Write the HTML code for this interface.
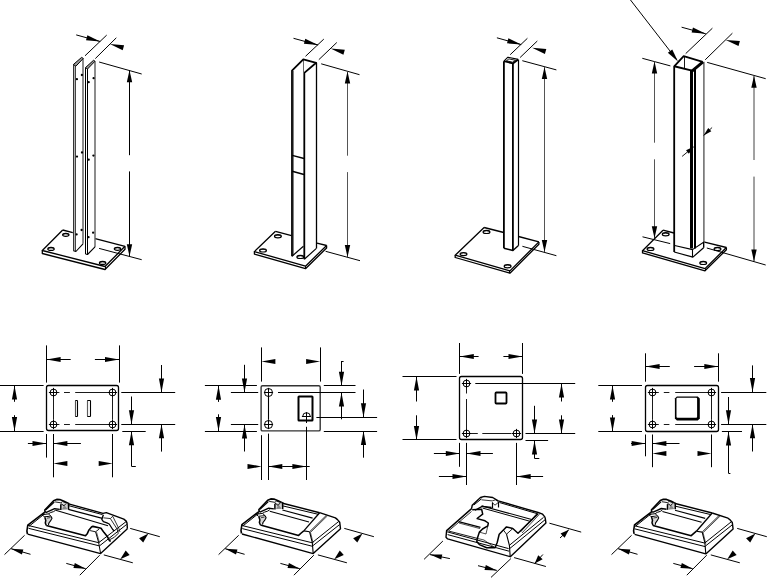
<!DOCTYPE html>
<html><head><meta charset="utf-8"><style>
html,body{margin:0;padding:0;background:#fff;}
body{width:767px;height:578px;overflow:hidden;font-family:"Liberation Sans",sans-serif;}
svg{display:block;}
</style></head><body>
<svg width="767" height="578" viewBox="0 0 767 578" stroke="#000" stroke-linecap="butt" stroke-linejoin="round" fill="none">
<line x1="76.2" y1="34.9" x2="100.2" y2="41.5" stroke-width="1"/>
<polygon points="100.2,41.5 87.39,35.28 86.01,40.29" fill="#000" stroke="none"/>
<line x1="85" y1="55.8" x2="106.7" y2="35.1" stroke-width="1"/>
<line x1="95.3" y1="58.6" x2="116.3" y2="37.8" stroke-width="1"/>
<polygon points="109.9,44 122.7,50.24 124.09,45.23" fill="#000" stroke="none"/>
<line x1="99.1" y1="62" x2="141.7" y2="74" stroke-width="1"/>
<line x1="129.5" y1="70.3" x2="129.5" y2="155.2" stroke-width="1"/>
<line x1="129.5" y1="171.4" x2="129.5" y2="256.2" stroke-width="1"/>
<polygon points="129.5,70.3 126.8,82.3 132.2,82.3" fill="#000" stroke="none"/>
<polygon points="129.5,256.2 132.2,244.2 126.8,244.2" fill="#000" stroke="none"/>
<line x1="99.1" y1="248.4" x2="141.7" y2="259.7" stroke-width="1"/>
<polyline points="62.7,230 42.3,250.5 105,266.5 125,246.3" stroke-width="1.3" fill="none"/>
<polyline points="42.3,250.5 42.3,253.5 105,269.5 125,249.3 125,246.3" stroke-width="1.3" fill="none"/>
<line x1="105.5" y1="266.5" x2="105.5" y2="269.5" stroke-width="1.04"/>
<line x1="62.7" y1="230" x2="72.8" y2="232.6" stroke-width="1.3"/>
<line x1="95.2" y1="238.6" x2="125" y2="246.3" stroke-width="1.3"/>
<ellipse cx="65.8" cy="234.8" rx="3.2" ry="1.5" stroke-width="1.2" fill="none"/>
<path d="M62.9,235 A2.9,1.2 0 0 1 68.7,235" stroke-width="0.8" fill="none"/>
<ellipse cx="51" cy="248.9" rx="3.2" ry="1.5" stroke-width="1.2" fill="none"/>
<path d="M48.1,249.1 A2.9,1.2 0 0 1 53.9,249.1" stroke-width="0.8" fill="none"/>
<ellipse cx="117.5" cy="248.8" rx="3.2" ry="1.5" stroke-width="1.2" fill="none"/>
<path d="M114.6,249 A2.9,1.2 0 0 1 120.4,249" stroke-width="0.8" fill="none"/>
<ellipse cx="102.6" cy="262.9" rx="3.2" ry="1.5" stroke-width="1.2" fill="none"/>
<path d="M99.7,263.1 A2.9,1.2 0 0 1 105.5,263.1" stroke-width="0.8" fill="none"/>
<polygon points="73.4,64.5 75.9,66.2 75.9,251.3 73.4,250.6" stroke-width="0" fill="#b4b4b4" stroke="none"/>
<line x1="73.5" y1="64.5" x2="73.5" y2="250.8" stroke-width="1" stroke="#333"/>
<line x1="75.5" y1="66" x2="75.5" y2="251.2" stroke-width="1" stroke="#444"/>
<line x1="83" y1="58.4" x2="83" y2="243.8" stroke-width="1.35" stroke="#555"/>
<polygon points="73.4,64.5 81.6,57.4 83.3,58.4 75.9,66.2" stroke-width="1" fill="#999"/>
<polyline points="73.4,250.8 75.9,251.5 83,243.8" stroke-width="1.1" fill="none"/>
<line x1="85.5" y1="67.6" x2="85.5" y2="254" stroke-width="1"/>
<line x1="87.5" y1="69" x2="87.5" y2="254.3" stroke-width="1"/>
<line x1="95" y1="61.2" x2="95" y2="246.9" stroke-width="1.35" stroke="#555"/>
<polygon points="85.5,67.6 93.5,60.3 95,61.2 87.5,69" stroke-width="1" fill="#999"/>
<polyline points="85.5,254 87.5,254.5 95,246.9" stroke-width="1.1" fill="none"/>
<circle cx="76.9" cy="79.2" r="1.15" fill="#000" stroke="none"/>
<circle cx="81.9" cy="75" r="1.15" fill="#000" stroke="none"/>
<circle cx="88.7" cy="82.2" r="1.15" fill="#000" stroke="none"/>
<circle cx="93.6" cy="78.2" r="1.15" fill="#000" stroke="none"/>
<circle cx="77" cy="156.6" r="1.15" fill="#000" stroke="none"/>
<circle cx="82" cy="152.5" r="1.15" fill="#000" stroke="none"/>
<circle cx="88.7" cy="159.7" r="1.15" fill="#000" stroke="none"/>
<circle cx="93.4" cy="155.6" r="1.15" fill="#000" stroke="none"/>
<circle cx="76.6" cy="234.4" r="1.15" fill="#000" stroke="none"/>
<circle cx="81.6" cy="230" r="1.15" fill="#000" stroke="none"/>
<circle cx="88.5" cy="237.2" r="1.15" fill="#000" stroke="none"/>
<circle cx="93.1" cy="232.7" r="1.15" fill="#000" stroke="none"/>
<line x1="293.5" y1="38.3" x2="318.1" y2="45" stroke-width="1"/>
<polygon points="318.1,45 305.28,38.81 303.91,43.83" fill="#000" stroke="none"/>
<line x1="305.5" y1="56.3" x2="323.8" y2="39.1" stroke-width="1"/>
<line x1="318.8" y1="59.7" x2="336.8" y2="42.5" stroke-width="1"/>
<polygon points="330.6,48.5 343.43,54.67 344.79,49.65" fill="#000" stroke="none"/>
<line x1="321.2" y1="63.8" x2="359.5" y2="74.7" stroke-width="1"/>
<line x1="347.5" y1="71.6" x2="347.5" y2="155.7" stroke-width="1" stroke="#555"/>
<line x1="347.5" y1="172.1" x2="347.5" y2="257.1" stroke-width="1" stroke="#555"/>
<polygon points="347.5,71.6 344.8,83.6 350.2,83.6" fill="#000" stroke="none"/>
<polygon points="347.5,257.1 350.2,245.1 344.8,245.1" fill="#000" stroke="none"/>
<line x1="325.6" y1="251.3" x2="360" y2="260.7" stroke-width="1"/>
<polyline points="275.5,231.3 254.4,251.6 305.5,266.2 326.6,245.5" stroke-width="1.3" fill="none"/>
<polyline points="254.4,251.6 254.4,254.1 305.5,268.7 326.6,248 326.6,245.5" stroke-width="1.3" fill="none"/>
<line x1="305.5" y1="266.2" x2="305.5" y2="268.7" stroke-width="1.04"/>
<line x1="275.5" y1="231.3" x2="291.5" y2="235.6" stroke-width="1.3"/>
<line x1="317" y1="243.2" x2="326.6" y2="245.5" stroke-width="1.3"/>
<ellipse cx="277.9" cy="236.3" rx="3.4" ry="1.6" stroke-width="1.2" fill="none"/>
<path d="M274.8,236.5 A3.1,1.28 0 0 1 281,236.5" stroke-width="0.8" fill="none"/>
<ellipse cx="263" cy="250.4" rx="3.4" ry="1.6" stroke-width="1.2" fill="none"/>
<path d="M259.9,250.6 A3.1,1.28 0 0 1 266.1,250.6" stroke-width="0.8" fill="none"/>
<ellipse cx="300.3" cy="256.9" rx="3.4" ry="1.6" stroke-width="1.2" fill="none"/>
<path d="M297.2,257.1 A3.1,1.28 0 0 1 303.4,257.1" stroke-width="0.8" fill="none"/>
<polyline points="292,256.2 292,70.6 303.3,59.4 316.2,62.8 304.3,72.9 304.3,259.3" stroke-width="1.8" fill="none"/>
<line x1="316.5" y1="62.8" x2="316.5" y2="248.4" stroke-width="1.3"/>
<line x1="292" y1="256.2" x2="303.4" y2="246.3" stroke-width="1.2"/>
<line x1="304.3" y1="259.3" x2="316.4" y2="248.4" stroke-width="1.2"/>
<line x1="303.5" y1="60" x2="303.5" y2="72.5" stroke-width="0.6"/>
<line x1="293.5" y1="71" x2="293.5" y2="255.5" stroke-width="0.5"/>
<line x1="292.2" y1="155.4" x2="304" y2="158.5" stroke-width="1.4"/>
<line x1="292.2" y1="171.3" x2="304" y2="174.5" stroke-width="1.4"/>
<line x1="496.9" y1="37.8" x2="521.2" y2="44.6" stroke-width="1"/>
<polygon points="521.2,44.6 508.42,38.32 507.02,43.33" fill="#000" stroke="none"/>
<line x1="510.2" y1="54.7" x2="527.4" y2="38.3" stroke-width="1"/>
<line x1="520.1" y1="57.5" x2="537.3" y2="41" stroke-width="1"/>
<polygon points="532.1,47.7 544.92,53.9 546.29,48.88" fill="#000" stroke="none"/>
<line x1="522.3" y1="60.7" x2="556.4" y2="69.9" stroke-width="1"/>
<line x1="544.5" y1="66.9" x2="544.5" y2="252.1" stroke-width="1" stroke="#555"/>
<polygon points="544.5,66.9 541.8,78.9 547.2,78.9" fill="#000" stroke="none"/>
<polygon points="544.5,252.1 547.2,240.1 541.8,240.1" fill="#000" stroke="none"/>
<line x1="522.4" y1="246.3" x2="556.4" y2="255.7" stroke-width="1"/>
<polyline points="484.1,227.5 455.2,255.2 509.9,270.9 538.9,241.9" stroke-width="1.3" fill="none"/>
<polyline points="455.2,255.2 455.2,257.5 509.9,273.2 538.9,244.2 538.9,241.9" stroke-width="1.3" fill="none"/>
<line x1="509.5" y1="270.9" x2="509.5" y2="273.2" stroke-width="1.04"/>
<line x1="484.1" y1="227.5" x2="503.8" y2="232.5" stroke-width="1.3"/>
<line x1="518.5" y1="236.5" x2="538.9" y2="241.9" stroke-width="1.3"/>
<ellipse cx="486.5" cy="231.9" rx="3.4" ry="1.6" stroke-width="1.2" fill="none"/>
<path d="M483.4,232.1 A3.1,1.28 0 0 1 489.6,232.1" stroke-width="0.8" fill="none"/>
<ellipse cx="463.5" cy="254.1" rx="3.4" ry="1.6" stroke-width="1.2" fill="none"/>
<path d="M460.4,254.3 A3.1,1.28 0 0 1 466.6,254.3" stroke-width="0.8" fill="none"/>
<ellipse cx="507.6" cy="266.2" rx="3.4" ry="1.6" stroke-width="1.2" fill="none"/>
<path d="M504.5,266.4 A3.1,1.28 0 0 1 510.7,266.4" stroke-width="0.8" fill="none"/>
<polyline points="503.9,248.2 503.9,61.2" stroke-width="1.8" fill="none"/>
<polyline points="503.9,61.2 507.9,57.2 518.2,59.4" stroke-width="1.1" fill="none"/>
<line x1="518.5" y1="59.6" x2="518.5" y2="245.8" stroke-width="1.2"/>
<polyline points="518.2,245.8 512.9,250.5 503.9,248.2" stroke-width="1.4" fill="none"/>
<polyline points="503.9,61.2 512.9,63.4 518.2,59.6" stroke-width="1.8" fill="none"/>
<line x1="512.9" y1="63.4" x2="512.9" y2="250.5" stroke-width="1.8"/>
<polygon points="506.4,60.8 508.9,58.9 515.6,60.3 512.7,62.2" stroke-width="0.9" fill="none"/>
<line x1="630.5" y1="0" x2="676.5" y2="59.4" stroke-width="1"/>
<polygon points="678,61.4 672.26,49.4 667.83,52.83" fill="#000" stroke="none"/>
<line x1="681.6" y1="27.2" x2="705.8" y2="33.8" stroke-width="1"/>
<polygon points="705.8,33.8 692.98,27.61 691.61,32.62" fill="#000" stroke="none"/>
<line x1="685.7" y1="53.6" x2="712.4" y2="28.2" stroke-width="1"/>
<line x1="705.2" y1="59.8" x2="732.4" y2="33.2" stroke-width="1"/>
<polygon points="725.7,39.9 738.52,46.09 739.89,41.08" fill="#000" stroke="none"/>
<line x1="642.3" y1="58.3" x2="670.4" y2="65.9" stroke-width="1"/>
<line x1="654.5" y1="61.4" x2="654.5" y2="142.7" stroke-width="1" stroke="#555"/>
<line x1="654.5" y1="159.3" x2="654.5" y2="238.2" stroke-width="1" stroke="#555"/>
<polygon points="654.5,61.4 651.8,73.4 657.2,73.4" fill="#000" stroke="none"/>
<polygon points="654.5,238.2 657.2,226.2 651.8,226.2" fill="#000" stroke="none"/>
<line x1="642.5" y1="236.8" x2="670.2" y2="243.6" stroke-width="1"/>
<line x1="707.2" y1="62.4" x2="765.7" y2="78.7" stroke-width="1"/>
<line x1="754" y1="75.7" x2="754" y2="160" stroke-width="1" stroke="#444"/>
<line x1="754" y1="176.6" x2="754" y2="261.4" stroke-width="1" stroke="#444"/>
<polygon points="754,75.7 751.3,87.7 756.7,87.7" fill="#000" stroke="none"/>
<polygon points="754,261.4 756.7,249.4 751.3,249.4" fill="#000" stroke="none"/>
<line x1="706.8" y1="248" x2="765.7" y2="265" stroke-width="1"/>
<polyline points="663,230.2 642.5,250.7 705,268.6 726.4,247.5" stroke-width="1.3" fill="none"/>
<polyline points="642.5,250.7 642.5,252.9 705,270.8 726.4,249.7 726.4,247.5" stroke-width="1.3" fill="none"/>
<line x1="705.5" y1="268.6" x2="705.5" y2="270.8" stroke-width="1.04"/>
<line x1="663" y1="230.2" x2="674" y2="233" stroke-width="1.3"/>
<line x1="703.6" y1="241.8" x2="726.4" y2="247.5" stroke-width="1.3"/>
<ellipse cx="665.7" cy="234.3" rx="3.4" ry="1.6" stroke-width="1.2" fill="none"/>
<path d="M662.6,234.5 A3.1,1.28 0 0 1 668.8,234.5" stroke-width="0.8" fill="none"/>
<ellipse cx="650.5" cy="248.9" rx="3.4" ry="1.6" stroke-width="1.2" fill="none"/>
<path d="M647.4,249.1 A3.1,1.28 0 0 1 653.6,249.1" stroke-width="0.8" fill="none"/>
<ellipse cx="703.2" cy="262.9" rx="3.4" ry="1.6" stroke-width="1.2" fill="none"/>
<path d="M700.1,263.1 A3.1,1.28 0 0 1 706.3,263.1" stroke-width="0.8" fill="none"/>
<ellipse cx="717.5" cy="248.9" rx="3.4" ry="1.6" stroke-width="1.2" fill="none"/>
<path d="M714.4,249.1 A3.1,1.28 0 0 1 720.6,249.1" stroke-width="0.8" fill="none"/>
<polyline points="674.2,252 674.2,66.3 683.7,56.2 702.7,61.8" stroke-width="1.8" fill="none"/>
<polyline points="674.2,66.3 692,70.6" stroke-width="2" fill="none"/>
<line x1="703.9" y1="61.8" x2="703.9" y2="247.7" stroke-width="1.35" stroke="#555"/>
<line x1="691.5" y1="69.8" x2="691.5" y2="248.5" stroke-width="3"/>
<line x1="695" y1="67.8" x2="695" y2="248.5" stroke-width="2"/>
<line x1="703" y1="61.8" x2="692.3" y2="70.9" stroke-width="3"/>
<line x1="684.5" y1="57" x2="684.5" y2="68.4" stroke-width="0.9"/>
<polyline points="674.6,245.5 692.5,249.6 703.6,242.2" stroke-width="1.1" fill="none"/>
<polyline points="674.2,252 692.9,257.1 703.6,247.7" stroke-width="1.2" fill="none"/>
<line x1="692.5" y1="249" x2="692.5" y2="257.1" stroke-width="1.1"/>
<line x1="703.5" y1="241.8" x2="703.5" y2="247.7" stroke-width="1"/>
<line x1="703.6" y1="135.5" x2="712.1" y2="127.5" stroke-width="0.9"/>
<polygon points="703.6,135.5 711.3,131.28 708.28,128.07" fill="#000" stroke="none"/>
<line x1="682.1" y1="156.4" x2="693.4" y2="147.1" stroke-width="0.9"/>
<polygon points="694,146.6 686.04,150.31 688.84,153.7" fill="#000" stroke="none"/>
<rect x="46.5" y="385.5" width="72" height="45" rx="2" stroke-width="1.3" fill="none"/>
<circle cx="53.5" cy="392.5" r="3.4" stroke-width="1" fill="none"/>
<line x1="48.9" y1="392.5" x2="58.1" y2="392.5" stroke-width="1"/>
<line x1="53.5" y1="387.9" x2="53.5" y2="397.1" stroke-width="1"/>
<circle cx="112.5" cy="392.5" r="3.4" stroke-width="1" fill="none"/>
<line x1="107.9" y1="392.5" x2="117.1" y2="392.5" stroke-width="1"/>
<line x1="112.5" y1="387.9" x2="112.5" y2="397.1" stroke-width="1"/>
<circle cx="53.5" cy="424.5" r="3.4" stroke-width="1" fill="none"/>
<line x1="48.9" y1="424.5" x2="58.1" y2="424.5" stroke-width="1"/>
<line x1="53.5" y1="419.9" x2="53.5" y2="429.1" stroke-width="1"/>
<circle cx="112.5" cy="424.5" r="3.4" stroke-width="1" fill="none"/>
<line x1="107.9" y1="424.5" x2="117.1" y2="424.5" stroke-width="1"/>
<line x1="112.5" y1="419.9" x2="112.5" y2="429.1" stroke-width="1"/>
<line x1="57.9" y1="392.5" x2="59.4" y2="392.5" stroke-width="0.9"/>
<line x1="64" y1="392.5" x2="69.9" y2="392.5" stroke-width="0.9"/>
<line x1="75.2" y1="392.5" x2="108" y2="392.5" stroke-width="0.9"/>
<line x1="121.4" y1="392.5" x2="125" y2="392.5" stroke-width="0.9"/>
<line x1="57.9" y1="424.5" x2="59.4" y2="424.5" stroke-width="0.9"/>
<line x1="64" y1="424.5" x2="69.9" y2="424.5" stroke-width="0.9"/>
<line x1="75.2" y1="424.5" x2="108" y2="424.5" stroke-width="0.9"/>
<line x1="121.4" y1="424.5" x2="125" y2="424.5" stroke-width="0.9"/>
<line x1="53.5" y1="396.8" x2="53.5" y2="419.8" stroke-width="0.9"/>
<line x1="112.5" y1="396.8" x2="112.5" y2="419.8" stroke-width="0.9"/>
<rect x="75.5" y="400.5" width="2" height="16" rx="0.6" stroke-width="1.1" fill="#fff"/>
<rect x="87.5" y="400.5" width="3" height="16" rx="0.6" stroke-width="1.1" fill="#fff"/>
<line x1="75.5" y1="401" x2="75.5" y2="416" stroke-width="0.7" stroke="#777"/>
<line x1="87.5" y1="401" x2="87.5" y2="416" stroke-width="0.9" stroke="#666"/>
<line x1="46.5" y1="345.4" x2="46.5" y2="382.6" stroke-width="1"/>
<line x1="119.5" y1="345.4" x2="119.5" y2="382.6" stroke-width="1"/>
<line x1="46.6" y1="359.5" x2="70.7" y2="359.5" stroke-width="1"/>
<polygon points="46.6,359.5 60.6,362.1 60.6,356.9" fill="#000" stroke="none"/>
<line x1="119" y1="359.5" x2="94.9" y2="359.5" stroke-width="1"/>
<polygon points="119,359.5 105,356.9 105,362.1" fill="#000" stroke="none"/>
<line x1="0" y1="385.5" x2="43.6" y2="385.5" stroke-width="1"/>
<line x1="0" y1="431.5" x2="43.6" y2="431.5" stroke-width="1"/>
<line x1="14.5" y1="385.6" x2="14.5" y2="401.8" stroke-width="1"/>
<polygon points="14.5,385.6 11.9,399.6 17.1,399.6" fill="#000" stroke="none"/>
<line x1="14.5" y1="431" x2="14.5" y2="415.2" stroke-width="1"/>
<polygon points="14.5,431 17.1,417 11.9,417" fill="#000" stroke="none"/>
<line x1="46.5" y1="434" x2="46.5" y2="457.6" stroke-width="1"/>
<line x1="53.5" y1="434" x2="53.5" y2="477.3" stroke-width="1"/>
<line x1="112.5" y1="434" x2="112.5" y2="477.3" stroke-width="1"/>
<line x1="46.5" y1="443.5" x2="27.9" y2="443.5" stroke-width="1"/>
<polygon points="46.5,443.5 32.5,440.9 32.5,446.1" fill="#000" stroke="none"/>
<line x1="53.4" y1="443.5" x2="80.9" y2="443.5" stroke-width="1"/>
<polygon points="53.4,443.5 67.4,446.1 67.4,440.9" fill="#000" stroke="none"/>
<polygon points="53.4,463.5 67.4,466.1 67.4,460.9" fill="#000" stroke="none"/>
<polygon points="112.7,463.5 98.7,460.9 98.7,466.1" fill="#000" stroke="none"/>
<line x1="121.6" y1="392.5" x2="175.2" y2="392.5" stroke-width="1"/>
<line x1="121.6" y1="424.5" x2="175.2" y2="424.5" stroke-width="1"/>
<line x1="122.3" y1="431.5" x2="145.7" y2="431.5" stroke-width="1"/>
<line x1="161.5" y1="392.4" x2="161.5" y2="365" stroke-width="1"/>
<polygon points="161.5,392.4 164.1,378.4 158.9,378.4" fill="#000" stroke="none"/>
<line x1="161.5" y1="424.2" x2="161.5" y2="451.6" stroke-width="1"/>
<polygon points="161.5,424.2 158.9,438.2 164.1,438.2" fill="#000" stroke="none"/>
<line x1="131.5" y1="424.2" x2="131.5" y2="396.5" stroke-width="1"/>
<polygon points="131.5,424.2 134.1,410.2 128.9,410.2" fill="#000" stroke="none"/>
<line x1="131.5" y1="431.2" x2="131.5" y2="466.5" stroke-width="1"/>
<polygon points="131.5,431.2 128.9,445.2 134.1,445.2" fill="#000" stroke="none"/>
<line x1="131.7" y1="466.5" x2="135.8" y2="466.5" stroke-width="1"/>
<rect x="261.1" y="385.7" width="59.1" height="45.2" rx="1.5" stroke-width="1.4" stroke="#333" fill="none"/>
<circle cx="268.5" cy="392.5" r="4" stroke-width="1" fill="none"/>
<line x1="263.9" y1="392.5" x2="273.1" y2="392.5" stroke-width="1"/>
<line x1="268.5" y1="387.9" x2="268.5" y2="397.1" stroke-width="1"/>
<circle cx="268.5" cy="424.5" r="4" stroke-width="1" fill="none"/>
<line x1="263.9" y1="424.5" x2="273.1" y2="424.5" stroke-width="1"/>
<line x1="268.5" y1="419.9" x2="268.5" y2="429.1" stroke-width="1"/>
<line x1="268.5" y1="396.9" x2="268.5" y2="419.8" stroke-width="1.1"/>
<rect x="298.5" y="396.5" width="14" height="24" rx="0.5" stroke-width="2" fill="none"/>
<path d="M302.7,416.5 A3.8,3.8 0 0 1 310.3,416.5" stroke-width="1.0" fill="none"/>
<line x1="301.9" y1="416.5" x2="310.9" y2="416.5" stroke-width="1"/>
<line x1="306.5" y1="412.2" x2="306.5" y2="423" stroke-width="1"/>
<line x1="261.5" y1="347.4" x2="261.5" y2="381.6" stroke-width="1"/>
<line x1="320.5" y1="347.4" x2="320.5" y2="381.6" stroke-width="1"/>
<polygon points="261.4,361.5 275.4,364.1 275.4,358.9" fill="#000" stroke="none"/>
<polygon points="320.1,361.5 306.1,358.9 306.1,364.1" fill="#000" stroke="none"/>
<line x1="204.9" y1="385.5" x2="256.9" y2="385.5" stroke-width="1"/>
<line x1="204.9" y1="431.5" x2="256.9" y2="431.5" stroke-width="1"/>
<line x1="218.5" y1="385.8" x2="218.5" y2="401.9" stroke-width="1"/>
<polygon points="218.5,385.8 215.9,399.8 221.1,399.8" fill="#000" stroke="none"/>
<line x1="218.5" y1="431" x2="218.5" y2="414.3" stroke-width="1"/>
<polygon points="218.5,431 221.1,417 215.9,417" fill="#000" stroke="none"/>
<line x1="230.9" y1="392.5" x2="258.2" y2="392.5" stroke-width="1"/>
<line x1="230.9" y1="424.5" x2="258.2" y2="424.5" stroke-width="1"/>
<line x1="244.5" y1="392.5" x2="244.5" y2="364.8" stroke-width="1"/>
<polygon points="244.5,392.5 247.1,378.5 241.9,378.5" fill="#000" stroke="none"/>
<line x1="244.5" y1="424.4" x2="244.5" y2="451.5" stroke-width="1"/>
<polygon points="244.5,424.4 241.9,438.4 247.1,438.4" fill="#000" stroke="none"/>
<line x1="278" y1="392.5" x2="355.5" y2="392.5" stroke-width="1"/>
<line x1="323.8" y1="385.5" x2="355.5" y2="385.5" stroke-width="1"/>
<line x1="341.6" y1="361.5" x2="343.6" y2="361.5" stroke-width="1"/>
<line x1="341.5" y1="385.8" x2="341.5" y2="361" stroke-width="1"/>
<polygon points="341.5,385.8 344.1,371.8 338.9,371.8" fill="#000" stroke="none"/>
<line x1="341.5" y1="392.5" x2="341.5" y2="419.3" stroke-width="1"/>
<polygon points="341.5,392.5 338.9,406.5 344.1,406.5" fill="#000" stroke="none"/>
<line x1="316.4" y1="417.5" x2="377.1" y2="417.5" stroke-width="1"/>
<line x1="323.8" y1="431.5" x2="377.1" y2="431.5" stroke-width="1"/>
<line x1="363.5" y1="417.3" x2="363.5" y2="389.5" stroke-width="1"/>
<polygon points="363.5,417.3 366.1,403.3 360.9,403.3" fill="#000" stroke="none"/>
<line x1="363.5" y1="431" x2="363.5" y2="457.7" stroke-width="1"/>
<polygon points="363.5,431 360.9,445 366.1,445" fill="#000" stroke="none"/>
<line x1="261.5" y1="435.2" x2="261.5" y2="480" stroke-width="1"/>
<line x1="268.5" y1="433.6" x2="268.5" y2="480" stroke-width="1"/>
<line x1="306.5" y1="426.8" x2="306.5" y2="480" stroke-width="1"/>
<polygon points="261.5,466.5 247.5,463.9 247.5,469.1" fill="#000" stroke="none"/>
<line x1="268.3" y1="466.5" x2="282.8" y2="466.5" stroke-width="1"/>
<polygon points="268.3,466.5 282.3,469.1 282.3,463.9" fill="#000" stroke="none"/>
<line x1="282.8" y1="466.5" x2="309.7" y2="466.5" stroke-width="1"/>
<polygon points="306.4,466.5 292.4,463.9 292.4,469.1" fill="#000" stroke="none"/>
<rect x="459.5" y="376.5" width="63" height="63" rx="2" stroke-width="1.3" fill="none"/>
<circle cx="466.5" cy="383.5" r="3.4" stroke-width="1" fill="none"/>
<line x1="461.9" y1="383.5" x2="471.1" y2="383.5" stroke-width="1"/>
<line x1="466.5" y1="378.9" x2="466.5" y2="388.1" stroke-width="1"/>
<circle cx="466.5" cy="433.5" r="3.4" stroke-width="1" fill="none"/>
<line x1="461.9" y1="433.5" x2="471.1" y2="433.5" stroke-width="1"/>
<line x1="466.5" y1="428.9" x2="466.5" y2="438.1" stroke-width="1"/>
<circle cx="516.5" cy="433.5" r="3.4" stroke-width="1" fill="none"/>
<line x1="511.9" y1="433.5" x2="521.1" y2="433.5" stroke-width="1"/>
<line x1="516.5" y1="428.9" x2="516.5" y2="438.1" stroke-width="1"/>
<rect x="495.5" y="392.5" width="11" height="11" rx="0.8" stroke-width="1.8" fill="none"/>
<line x1="466.5" y1="387.8" x2="466.5" y2="393.5" stroke-width="0.9"/>
<line x1="466.5" y1="399" x2="466.5" y2="429" stroke-width="0.9"/>
<line x1="470.5" y1="433.5" x2="477.8" y2="433.5" stroke-width="0.9"/>
<line x1="482.3" y1="433.5" x2="511.5" y2="433.5" stroke-width="0.9"/>
<line x1="475.3" y1="383.5" x2="575.2" y2="383.5" stroke-width="1"/>
<line x1="459.5" y1="343" x2="459.5" y2="373.9" stroke-width="1"/>
<line x1="522.5" y1="343" x2="522.5" y2="373.9" stroke-width="1"/>
<line x1="459.8" y1="356.5" x2="478.6" y2="356.5" stroke-width="1"/>
<polygon points="459.8,356.5 473.8,359.1 473.8,353.9" fill="#000" stroke="none"/>
<line x1="522.5" y1="356.5" x2="503.4" y2="356.5" stroke-width="1"/>
<polygon points="522.5,356.5 508.5,353.9 508.5,359.1" fill="#000" stroke="none"/>
<line x1="402.5" y1="376.5" x2="456.5" y2="376.5" stroke-width="1"/>
<line x1="402.5" y1="439.5" x2="456.5" y2="439.5" stroke-width="1"/>
<line x1="416.5" y1="376.6" x2="416.5" y2="401.5" stroke-width="1"/>
<polygon points="416.5,376.6 413.9,390.6 419.1,390.6" fill="#000" stroke="none"/>
<line x1="416.5" y1="439.9" x2="416.5" y2="415.3" stroke-width="1"/>
<polygon points="416.5,439.9 419.1,425.9 413.9,425.9" fill="#000" stroke="none"/>
<line x1="525.5" y1="433.5" x2="575.2" y2="433.5" stroke-width="1"/>
<line x1="525.5" y1="440.5" x2="548.1" y2="440.5" stroke-width="1"/>
<line x1="561.5" y1="383.4" x2="561.5" y2="401.5" stroke-width="1"/>
<polygon points="561.5,383.4 558.9,397.4 564.1,397.4" fill="#000" stroke="none"/>
<line x1="561.5" y1="433.4" x2="561.5" y2="415.3" stroke-width="1"/>
<polygon points="561.5,433.4 564.1,419.4 558.9,419.4" fill="#000" stroke="none"/>
<line x1="534.5" y1="433.4" x2="534.5" y2="405.8" stroke-width="1"/>
<polygon points="534.5,433.4 537.1,419.4 531.9,419.4" fill="#000" stroke="none"/>
<line x1="534.5" y1="440.4" x2="534.5" y2="458" stroke-width="1"/>
<polygon points="534.5,440.4 531.9,454.4 537.1,454.4" fill="#000" stroke="none"/>
<line x1="534.3" y1="458.5" x2="539.3" y2="458.5" stroke-width="1"/>
<line x1="459.5" y1="442.9" x2="459.5" y2="466.8" stroke-width="1"/>
<line x1="466.5" y1="442.9" x2="466.5" y2="485" stroke-width="1"/>
<line x1="516.5" y1="442.9" x2="516.5" y2="485" stroke-width="1"/>
<line x1="459.8" y1="453.5" x2="433.9" y2="453.5" stroke-width="1"/>
<polygon points="459.8,453.5 445.8,450.9 445.8,456.1" fill="#000" stroke="none"/>
<line x1="466.5" y1="453.5" x2="492.9" y2="453.5" stroke-width="1"/>
<polygon points="466.5,453.5 480.5,456.1 480.5,450.9" fill="#000" stroke="none"/>
<line x1="466.5" y1="476.5" x2="438.9" y2="476.5" stroke-width="1"/>
<polygon points="466.5,476.5 452.5,473.9 452.5,479.1" fill="#000" stroke="none"/>
<line x1="516.7" y1="476.5" x2="543.1" y2="476.5" stroke-width="1"/>
<polygon points="516.7,476.5 530.7,479.1 530.7,473.9" fill="#000" stroke="none"/>
<rect x="645.5" y="385.5" width="73" height="46" rx="2" stroke-width="1.3" fill="none"/>
<circle cx="652.5" cy="392.5" r="3.4" stroke-width="1" fill="none"/>
<line x1="647.9" y1="392.5" x2="657.1" y2="392.5" stroke-width="1"/>
<line x1="652.5" y1="387.9" x2="652.5" y2="397.1" stroke-width="1"/>
<circle cx="711.5" cy="392.5" r="3.4" stroke-width="1" fill="none"/>
<line x1="706.9" y1="392.5" x2="716.1" y2="392.5" stroke-width="1"/>
<line x1="711.5" y1="387.9" x2="711.5" y2="397.1" stroke-width="1"/>
<circle cx="652.5" cy="424.5" r="3.4" stroke-width="1" fill="none"/>
<line x1="647.9" y1="424.5" x2="657.1" y2="424.5" stroke-width="1"/>
<line x1="652.5" y1="419.9" x2="652.5" y2="429.1" stroke-width="1"/>
<circle cx="711.5" cy="424.5" r="3.4" stroke-width="1" fill="none"/>
<line x1="706.9" y1="424.5" x2="716.1" y2="424.5" stroke-width="1"/>
<line x1="711.5" y1="419.9" x2="711.5" y2="429.1" stroke-width="1"/>
<line x1="656.6" y1="392.5" x2="658.8" y2="392.5" stroke-width="0.9"/>
<line x1="663.8" y1="392.5" x2="669.4" y2="392.5" stroke-width="0.9"/>
<line x1="675.2" y1="392.5" x2="707.8" y2="392.5" stroke-width="0.9"/>
<line x1="721.4" y1="392.5" x2="725" y2="392.5" stroke-width="0.9"/>
<line x1="656.6" y1="424.5" x2="658.8" y2="424.5" stroke-width="0.9"/>
<line x1="663.8" y1="424.5" x2="669.4" y2="424.5" stroke-width="0.9"/>
<line x1="675.2" y1="424.5" x2="707.8" y2="424.5" stroke-width="0.9"/>
<line x1="721.4" y1="424.5" x2="725" y2="424.5" stroke-width="0.9"/>
<line x1="652.5" y1="396.6" x2="652.5" y2="419.8" stroke-width="0.9"/>
<line x1="711.5" y1="396.6" x2="711.5" y2="419.8" stroke-width="0.9"/>
<path d="M676.9,396.4 H697.8 L699.8,398.4 V418.4 L697.8,420.4 H676.9 L674.9,418.4 V398.4 Z" fill="#000" stroke="none"/>
<rect x="676.5" y="397.8" width="20.6" height="19.9" rx="1" fill="#fff" stroke="none"/>
<line x1="645.5" y1="353.3" x2="645.5" y2="381.7" stroke-width="1"/>
<line x1="718.5" y1="353.3" x2="718.5" y2="381.7" stroke-width="1"/>
<line x1="645.6" y1="366.5" x2="669.8" y2="366.5" stroke-width="1"/>
<polygon points="645.6,366.5 659.6,369.1 659.6,363.9" fill="#000" stroke="none"/>
<line x1="718.3" y1="366.5" x2="694.1" y2="366.5" stroke-width="1"/>
<polygon points="718.3,366.5 704.3,363.9 704.3,369.1" fill="#000" stroke="none"/>
<line x1="598.3" y1="385.5" x2="642" y2="385.5" stroke-width="1"/>
<line x1="598.3" y1="431.5" x2="642" y2="431.5" stroke-width="1"/>
<line x1="612.5" y1="385.6" x2="612.5" y2="401.8" stroke-width="1"/>
<polygon points="612.5,385.6 609.9,399.6 615.1,399.6" fill="#000" stroke="none"/>
<line x1="612.5" y1="431.4" x2="612.5" y2="415.1" stroke-width="1"/>
<polygon points="612.5,431.4 615.1,417.4 609.9,417.4" fill="#000" stroke="none"/>
<line x1="721.2" y1="392.5" x2="766.3" y2="392.5" stroke-width="1"/>
<line x1="721.2" y1="424.5" x2="766.3" y2="424.5" stroke-width="1"/>
<line x1="721.9" y1="431.5" x2="742" y2="431.5" stroke-width="1"/>
<line x1="752.5" y1="392.1" x2="752.5" y2="365.4" stroke-width="1"/>
<polygon points="752.5,392.1 755.1,378.1 749.9,378.1" fill="#000" stroke="none"/>
<line x1="752.5" y1="424.3" x2="752.5" y2="451.5" stroke-width="1"/>
<polygon points="752.5,424.3 749.9,438.3 755.1,438.3" fill="#000" stroke="none"/>
<line x1="728.5" y1="424.3" x2="728.5" y2="397" stroke-width="1"/>
<polygon points="728.5,424.3 731.1,410.3 725.9,410.3" fill="#000" stroke="none"/>
<line x1="728.5" y1="431.4" x2="728.5" y2="473.3" stroke-width="1"/>
<polygon points="728.5,431.4 725.9,445.4 731.1,445.4" fill="#000" stroke="none"/>
<line x1="728.5" y1="473.5" x2="730.4" y2="473.5" stroke-width="1"/>
<line x1="645.5" y1="434.5" x2="645.5" y2="456.3" stroke-width="1"/>
<line x1="652.5" y1="434.5" x2="652.5" y2="467.2" stroke-width="1"/>
<line x1="711.5" y1="434.5" x2="711.5" y2="467.2" stroke-width="1"/>
<line x1="645.6" y1="443.5" x2="631" y2="443.5" stroke-width="1"/>
<polygon points="645.6,443.5 631.6,440.9 631.6,446.1" fill="#000" stroke="none"/>
<line x1="652.4" y1="443.5" x2="679.5" y2="443.5" stroke-width="1"/>
<polygon points="652.4,443.5 666.4,446.1 666.4,440.9" fill="#000" stroke="none"/>
<polygon points="652.4,453.5 666.4,456.1 666.4,450.9" fill="#000" stroke="none"/>
<polygon points="711.5,453.5 697.5,450.9 697.5,456.1" fill="#000" stroke="none"/>
<polyline points="44.8,512.1 27.8,525.2 26.9,531 27.4,534" stroke-width="1.6" fill="none"/>
<line x1="29" y1="526.3" x2="44.6" y2="513.8" stroke-width="1"/>
<polyline points="45.8,512.6 45,511.6 44.8,510 53.6,500.7 56.7,499.4 59.8,499.6 64,501.2 66,502.2 69.2,503.8" stroke-width="1.6" fill="none"/>
<line x1="45.9" y1="509.9" x2="54.3" y2="502" stroke-width="1.1"/>
<polyline points="45.8,512.6 54.6,508.7 59.8,509.4" stroke-width="1.4" fill="none"/>
<polygon points="61.2,503.6 68,503 68.2,509.3 61.2,509.8" stroke-width="0" fill="#d0d0d0" stroke="none"/>
<polygon points="62,509.6 64.3,505 67.6,509.2" stroke-width="0" fill="#888" stroke="none"/>
<polyline points="55.1,501.9 60.8,502.8 62.4,501.7" stroke-width="0.9" fill="none"/>
<line x1="60.8" y1="504.3" x2="60.8" y2="510" stroke-width="1.5"/>
<line x1="68.5" y1="503.5" x2="68.6" y2="509.5" stroke-width="1.5"/>
<polyline points="60.8,503.5 64,505.8 66,503.6" stroke-width="0.9" fill="none"/>
<polyline points="62.4,501.7 66,502.8 68.5,503.6" stroke-width="0.8" fill="none"/>
<polyline points="42.2,514.7 48.4,513.9 51,516.2 44.2,516.8 42.2,514.7" stroke-width="1" fill="none"/>
<polyline points="48.4,513.9 50.5,512.6 53.6,511.6 55.7,510.2" stroke-width="1" fill="none"/>
<polygon points="45.3,517.5 51,516.4 51.8,518.4 49,523 46.3,524.8 45.6,521" stroke-width="0" fill="#d8d8d8" stroke="none"/>
<polyline points="44.8,517.3 45.8,520.4 45.3,523 46.3,525.6" stroke-width="1.5" fill="none"/>
<polyline points="51,516.2 52,518.3 50.5,520.9 48.9,523 48.4,525" stroke-width="1.1" fill="none"/>
<line x1="46.8" y1="518.2" x2="50.4" y2="517.6" stroke-width="0.7"/>
<polyline points="27.6,534.2 100.6,553.6 127.4,528.7" stroke-width="1.3" fill="none"/>
<polyline points="68.6,503.8 103,513.4 106.3,512.6 123.8,519.1 126.2,521.1 127,523.1 127.4,528.7" stroke-width="1.4" fill="none"/>
<line x1="28" y1="525.4" x2="98.7" y2="542.7" stroke-width="1"/>
<line x1="28.5" y1="528.3" x2="99.4" y2="545.9" stroke-width="1"/>
<polyline points="95.6,531.8 98.7,542.7 100.6,553.6" stroke-width="1" fill="none"/>
<line x1="96.6" y1="532.2" x2="99.4" y2="542.4" stroke-width="0.6"/>
<line x1="98.7" y1="542.7" x2="126" y2="521.7" stroke-width="1"/>
<line x1="99.6" y1="545.8" x2="126.7" y2="524.4" stroke-width="1"/>
<polyline points="46.3,525.6 85.5,535.7 87.4,533.4 89,529.9 91.7,526.7 92.9,526.4 101,528.3 104.1,532.6 107.3,536.5 109.6,540.8 110.8,541.2" stroke-width="1.6" fill="none"/>
<polyline points="90.1,530.6 95.6,531.8 99.1,529.1" stroke-width="0.9" fill="none"/>
<line x1="68.5" y1="505.6" x2="102.5" y2="514.6" stroke-width="1"/>
<line x1="68.3" y1="509.4" x2="102.4" y2="518.4" stroke-width="1.1"/>
<line x1="55.7" y1="510.2" x2="108" y2="525.8" stroke-width="1.2"/>
<polyline points="103.4,514.7 101.8,519.3 103.4,521.7 106.9,522.9 109.2,524 112.7,529.5 114.3,531" stroke-width="1.3" fill="none"/>
<line x1="110.4" y1="518.6" x2="117.4" y2="529.5" stroke-width="0.8"/>
<line x1="112.7" y1="516.2" x2="118.9" y2="528.7" stroke-width="0.8"/>
<polyline points="103.4,517.8 110.4,518.6 112.7,516.2" stroke-width="0.8" fill="none"/>
<polyline points="117.4,529.5 118.2,533.4 114.3,537.3 110,539.5" stroke-width="0.9" fill="none"/>
<polyline points="118.9,528.7 120,532" stroke-width="0.7" fill="none"/>
<line x1="4.5" y1="554.6" x2="24.6" y2="535.3" stroke-width="1"/>
<line x1="11.1" y1="548.7" x2="30.5" y2="554.3" stroke-width="1"/>
<polygon points="11.1,548.7 21.91,554.53 23.35,549.53" fill="#000" stroke="none"/>
<line x1="79.8" y1="575.2" x2="99.7" y2="555.2" stroke-width="1"/>
<line x1="85.7" y1="568.7" x2="66.3" y2="563.4" stroke-width="1"/>
<polygon points="85.7,568.7 74.81,563.03 73.44,568.05" fill="#000" stroke="none"/>
<line x1="130.2" y1="528.4" x2="159.8" y2="536.7" stroke-width="1"/>
<line x1="103.8" y1="554.9" x2="132.8" y2="562.8" stroke-width="1"/>
<polygon points="148.4,533.5 139.07,538.19 143.2,542.55" fill="#000" stroke="none"/>
<polygon points="120.2,559.3 129.66,554.89 125.67,550.41" fill="#000" stroke="none"/>
<polyline points="258.9,511.6 241.9,524.7 241,530.5 241.5,533.5" stroke-width="1.6" fill="none"/>
<line x1="243.1" y1="525.8" x2="258.7" y2="513.3" stroke-width="1"/>
<polyline points="259.9,512.1 259.1,511.1 258.9,509.5 267.7,500.2 270.8,498.9 273.9,499.1 278.1,500.7 280.1,501.7 283.3,503.3" stroke-width="1.6" fill="none"/>
<line x1="260" y1="509.4" x2="268.4" y2="501.5" stroke-width="1.1"/>
<polyline points="259.9,512.1 268.7,508.2 273.9,508.9" stroke-width="1.4" fill="none"/>
<polygon points="275.3,503.1 282.1,502.5 282.3,508.8 275.3,509.3" stroke-width="0" fill="#d0d0d0" stroke="none"/>
<polygon points="276.1,509.1 278.4,504.5 281.7,508.7" stroke-width="0" fill="#888" stroke="none"/>
<polyline points="269.2,501.4 274.9,502.3 276.5,501.2" stroke-width="0.9" fill="none"/>
<line x1="274.9" y1="503.8" x2="274.9" y2="509.5" stroke-width="1.5"/>
<line x1="282.6" y1="503" x2="282.7" y2="509" stroke-width="1.5"/>
<polyline points="274.9,503 278.1,505.3 280.1,503.1" stroke-width="0.9" fill="none"/>
<polyline points="276.5,501.2 280.1,502.3 282.6,503.1" stroke-width="0.8" fill="none"/>
<polyline points="256.3,514.2 262.5,513.4 265.1,515.7 258.3,516.3 256.3,514.2" stroke-width="1" fill="none"/>
<polyline points="262.5,513.4 264.6,512.1 267.7,511.1 269.8,509.7" stroke-width="1" fill="none"/>
<polygon points="259.4,517 265.1,515.9 265.9,517.9 263.1,522.5 260.4,524.3 259.7,520.5" stroke-width="0" fill="#d8d8d8" stroke="none"/>
<polyline points="258.9,516.8 259.9,519.9 259.4,522.5 260.4,525.1" stroke-width="1.5" fill="none"/>
<polyline points="265.1,515.7 266.1,517.8 264.6,520.4 263,522.5 262.5,524.5" stroke-width="1.1" fill="none"/>
<line x1="260.9" y1="517.7" x2="264.5" y2="517.1" stroke-width="0.7"/>
<polyline points="242,534 313.2,553.6 340.5,528.8 339.7,522.2 337.5,519.6 335.4,517.9 319.6,512.7" stroke-width="1.4" fill="none"/>
<line x1="282.6" y1="503.2" x2="319.6" y2="512.7" stroke-width="1.4"/>
<polyline points="303.8,530.9 319.6,512.7" stroke-width="1.3" fill="none"/>
<line x1="309.6" y1="531.8" x2="326.5" y2="515.2" stroke-width="0.9"/>
<line x1="310.6" y1="532.3" x2="327.5" y2="515.8" stroke-width="0.7"/>
<polyline points="303.8,530.9 309.6,531.8" stroke-width="1.1" fill="none"/>
<polyline points="309.6,531.8 312.3,542.6 313.2,553.6" stroke-width="1.1" fill="none"/>
<line x1="310.5" y1="532.5" x2="313.2" y2="543.2" stroke-width="0.6"/>
<line x1="312.3" y1="542.6" x2="338.8" y2="521.4" stroke-width="1"/>
<line x1="313" y1="545.6" x2="339.6" y2="524.6" stroke-width="1"/>
<line x1="242" y1="525.5" x2="312.3" y2="542.8" stroke-width="1"/>
<line x1="242.3" y1="528.6" x2="312.9" y2="546.4" stroke-width="1"/>
<polyline points="260.4,525.1 298.6,535.4 301.2,533 303.8,530.9" stroke-width="1.6" fill="none"/>
<line x1="282.4" y1="505.8" x2="318.2" y2="514.3" stroke-width="1"/>
<line x1="282.4" y1="510" x2="312.6" y2="518.1" stroke-width="1.1"/>
<line x1="269.8" y1="511.2" x2="309" y2="522" stroke-width="1.1"/>
<line x1="218.6" y1="554.6" x2="238.7" y2="535.3" stroke-width="1"/>
<line x1="225.2" y1="548.7" x2="244.6" y2="554.3" stroke-width="1"/>
<polygon points="225.2,548.7 236.01,554.53 237.45,549.53" fill="#000" stroke="none"/>
<line x1="293.9" y1="575.2" x2="313.8" y2="555.2" stroke-width="1"/>
<line x1="299.8" y1="568.7" x2="280.4" y2="563.4" stroke-width="1"/>
<polygon points="299.8,568.7 288.91,563.03 287.54,568.05" fill="#000" stroke="none"/>
<line x1="344.3" y1="528.4" x2="373.9" y2="536.7" stroke-width="1"/>
<line x1="317.9" y1="554.9" x2="346.9" y2="562.8" stroke-width="1"/>
<polygon points="362.5,533.5 353.17,538.19 357.3,542.55" fill="#000" stroke="none"/>
<polygon points="334.3,559.3 343.76,554.89 339.77,550.41" fill="#000" stroke="none"/>
<polyline points="651.5,511.9 634.5,525 633.6,530.8 634.1,533.8" stroke-width="1.6" fill="none"/>
<line x1="635.7" y1="526.1" x2="651.3" y2="513.6" stroke-width="1"/>
<polyline points="652.5,512.4 651.7,511.4 651.5,509.8 660.3,500.5 663.4,499.2 666.5,499.4 670.7,501 672.7,502 675.9,503.6" stroke-width="1.6" fill="none"/>
<line x1="652.6" y1="509.7" x2="661" y2="501.8" stroke-width="1.1"/>
<polyline points="652.5,512.4 661.3,508.5 666.5,509.2" stroke-width="1.4" fill="none"/>
<polygon points="667.9,503.4 674.7,502.8 674.9,509.1 667.9,509.6" stroke-width="0" fill="#d0d0d0" stroke="none"/>
<polygon points="668.7,509.4 671,504.8 674.3,509" stroke-width="0" fill="#888" stroke="none"/>
<polyline points="661.8,501.7 667.5,502.6 669.1,501.5" stroke-width="0.9" fill="none"/>
<line x1="667.5" y1="504.1" x2="667.5" y2="509.8" stroke-width="1.5"/>
<line x1="675.2" y1="503.3" x2="675.3" y2="509.3" stroke-width="1.5"/>
<polyline points="667.5,503.3 670.7,505.6 672.7,503.4" stroke-width="0.9" fill="none"/>
<polyline points="669.1,501.5 672.7,502.6 675.2,503.4" stroke-width="0.8" fill="none"/>
<polyline points="648.9,514.5 655.1,513.7 657.7,516 650.9,516.6 648.9,514.5" stroke-width="1" fill="none"/>
<polyline points="655.1,513.7 657.2,512.4 660.3,511.4 662.4,510" stroke-width="1" fill="none"/>
<polygon points="652,517.3 657.7,516.2 658.5,518.2 655.7,522.8 653,524.6 652.3,520.8" stroke-width="0" fill="#d8d8d8" stroke="none"/>
<polyline points="651.5,517.1 652.5,520.2 652,522.8 653,525.4" stroke-width="1.5" fill="none"/>
<polyline points="657.7,516 658.7,518.1 657.2,520.7 655.6,522.8 655.1,524.8" stroke-width="1.1" fill="none"/>
<line x1="653.5" y1="518" x2="657.1" y2="517.4" stroke-width="0.7"/>
<polyline points="634.6,534.3 705.8,553.9 733.1,529.1 732.3,522.5 730.1,519.9 728,518.2 712.2,513" stroke-width="1.4" fill="none"/>
<line x1="675.2" y1="503.5" x2="712.2" y2="513" stroke-width="1.4"/>
<polyline points="696.4,531.2 712.2,513" stroke-width="1.3" fill="none"/>
<line x1="702.2" y1="532.1" x2="719.1" y2="515.5" stroke-width="0.9"/>
<line x1="703.2" y1="532.6" x2="720.1" y2="516.1" stroke-width="0.7"/>
<polyline points="696.4,531.2 702.2,532.1" stroke-width="1.1" fill="none"/>
<polyline points="702.2,532.1 704.9,542.9 705.8,553.9" stroke-width="1.1" fill="none"/>
<line x1="703.1" y1="532.8" x2="705.8" y2="543.5" stroke-width="0.6"/>
<line x1="704.9" y1="542.9" x2="731.4" y2="521.7" stroke-width="1"/>
<line x1="705.6" y1="545.9" x2="732.2" y2="524.9" stroke-width="1"/>
<line x1="634.6" y1="525.8" x2="704.9" y2="543.1" stroke-width="1"/>
<line x1="634.9" y1="528.9" x2="705.5" y2="546.7" stroke-width="1"/>
<polyline points="653,525.4 691.2,535.7 693.8,533.3 696.4,531.2" stroke-width="1.6" fill="none"/>
<line x1="675" y1="506.1" x2="710.8" y2="514.6" stroke-width="1"/>
<line x1="675" y1="510.3" x2="705.2" y2="518.4" stroke-width="1.1"/>
<line x1="662.4" y1="511.5" x2="701.6" y2="522.3" stroke-width="1.1"/>
<line x1="611.5" y1="554.6" x2="631.6" y2="535.3" stroke-width="1"/>
<line x1="618.1" y1="548.7" x2="637.5" y2="554.3" stroke-width="1"/>
<polygon points="618.1,548.7 628.91,554.53 630.35,549.53" fill="#000" stroke="none"/>
<line x1="686.8" y1="575.2" x2="706.7" y2="555.2" stroke-width="1"/>
<line x1="692.7" y1="568.7" x2="673.3" y2="563.4" stroke-width="1"/>
<polygon points="692.7,568.7 681.81,563.03 680.44,568.05" fill="#000" stroke="none"/>
<line x1="737.2" y1="528.4" x2="766.8" y2="536.7" stroke-width="1"/>
<line x1="710.8" y1="554.9" x2="739.8" y2="562.8" stroke-width="1"/>
<polygon points="755.4,533.5 746.07,538.19 750.2,542.55" fill="#000" stroke="none"/>
<polygon points="727.2,559.3 736.66,554.89 732.67,550.41" fill="#000" stroke="none"/>
<polyline points="471.6,508.6 446.6,530.6 446,537.3 447.6,538.9 510.3,556.7 545.9,522.9 545.3,518.5 544.8,516.9 542.6,514.2 538.1,512.5 498.2,500.9 492.7,497.5 484.4,496.4 480.5,497.5 472.2,505.3 471.6,508.6" stroke-width="1.4" fill="none"/>
<line x1="448.5" y1="531" x2="471.5" y2="511.5" stroke-width="0.8"/>
<line x1="447.1" y1="531.8" x2="508.6" y2="548.6" stroke-width="1"/>
<line x1="447.6" y1="534.6" x2="509.1" y2="551.2" stroke-width="1"/>
<line x1="509.4" y1="545.3" x2="543.5" y2="517.4" stroke-width="1"/>
<line x1="510" y1="548.3" x2="545" y2="519.8" stroke-width="1"/>
<polyline points="506.5,534.2 509.4,545.3 510.2,556.6" stroke-width="1.1" fill="none"/>
<polyline points="472.2,509.7 481.6,509.2 482.7,514.2 478.3,517.5 477.2,518.6 485,520.8 488.3,523 487.8,525.9 482.5,529 479.4,532.1 477.3,538.4 476.8,541.5 479.4,544.6 486.7,547.8 495.1,547.8 497.2,542.5 499.2,534.2 503.4,530 506.5,526.9 512.8,528.5 518,533.2 538.1,513.6" stroke-width="1.5" fill="none"/>
<line x1="448.5" y1="531" x2="477.8" y2="538.5" stroke-width="0.9"/>
<line x1="458.6" y1="521.7" x2="480.5" y2="527.4" stroke-width="1.2"/>
<line x1="459" y1="523" x2="480" y2="528.6" stroke-width="0.7"/>
<polyline points="503.4,530 506.5,534.2 512.8,528.5" stroke-width="0.9" fill="none"/>
<polyline points="479.4,532.1 486,534 487.8,525.9" stroke-width="0.7" fill="none"/>
<polyline points="477.3,538.4 484,540 495.1,547.8" stroke-width="0.7" fill="none"/>
<line x1="520.5" y1="532" x2="536.5" y2="514" stroke-width="0.7"/>
<line x1="522" y1="533" x2="539.5" y2="514.2" stroke-width="0.7"/>
<line x1="499.4" y1="502.5" x2="537" y2="513.6" stroke-width="1"/>
<line x1="481.6" y1="505.9" x2="532.6" y2="519.7" stroke-width="1.1"/>
<line x1="482.7" y1="508.1" x2="530.4" y2="521.4" stroke-width="1"/>
<polyline points="475,510.3 482.2,506.4 491.6,507.5" stroke-width="1.3" fill="none"/>
<line x1="473.8" y1="505" x2="481.5" y2="498.8" stroke-width="1"/>
<polyline points="481.5,499.8 492.2,500.9 495.5,499.8 498.2,501.4" stroke-width="0.8" fill="none"/>
<line x1="492.5" y1="502.5" x2="492.5" y2="508.1" stroke-width="1.2"/>
<line x1="498.5" y1="502" x2="498.5" y2="507.5" stroke-width="1.2"/>
<polyline points="492.2,502.5 495,505.2 498.8,502" stroke-width="0.8" fill="none"/>
<line x1="424.1" y1="559.3" x2="442.9" y2="541" stroke-width="1"/>
<line x1="430" y1="554.6" x2="449.9" y2="558.6" stroke-width="1"/>
<polygon points="430,554.6 441.25,559.51 442.28,554.42" fill="#000" stroke="none"/>
<line x1="491" y1="577.4" x2="510.9" y2="558.6" stroke-width="1"/>
<line x1="496.8" y1="570.4" x2="478" y2="565.7" stroke-width="1"/>
<polygon points="496.8,570.4 485.79,564.97 484.53,570.01" fill="#000" stroke="none"/>
<line x1="549.4" y1="523.2" x2="581.2" y2="532.1" stroke-width="1"/>
<line x1="514.1" y1="557.6" x2="545.9" y2="566.5" stroke-width="1"/>
<line x1="568.8" y1="529.8" x2="560" y2="538" stroke-width="1"/>
<polygon points="568.8,529.8 560.54,533.4 564.63,537.79" fill="#000" stroke="none"/>
<line x1="534.7" y1="563.5" x2="542.9" y2="554.5" stroke-width="1"/>
<polygon points="534.7,563.5 542.64,559.24 538.21,555.2" fill="#000" stroke="none"/>
</svg>
</body></html>
